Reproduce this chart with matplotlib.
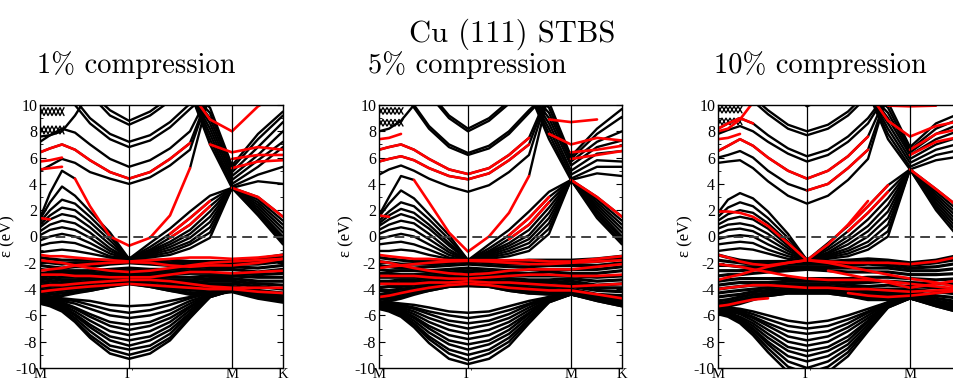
import numpy as np
import matplotlib
matplotlib.use("Agg")
import matplotlib.pyplot as plt
from matplotlib.ticker import MultipleLocator

N = np.nan
T = 11.0  # band leaves the window at the top

# k path M - Gamma - M - K (path length units)
k_nodes = [0, 10, 22, 35, 50, 70, 89, 110, 130, 150, 170, 192, 218, 243]
sym_k = [0, 89, 192, 243]
sym_labels = ["M", "Γ", "M", "K"]
wave_k = [0, 4, 8, 12, 16, 20, 24]

suptitle = "Cu (111) STBS"
panel_titles = ["1% compression", "5% compression", "10% compression"]

# ---------------- 1% compression ----------------
p1_lower = [
    [-4.6, -4.6, -4.7, -4.8, -4.9, -5.2, -5.3, -5.2, -4.9, -4.6, -4.3, -4.0, -4.3, -4.5],
    [-4.7, -4.7, -4.8, -4.9, -5.2, -5.6, -5.8, -5.6, -5.2, -4.7, -4.3, -4.0, -4.3, -4.5],
    [-4.7, -4.8, -4.9, -5.1, -5.5, -6.0, -6.2, -6.0, -5.6, -4.9, -4.4, -4.0, -4.4, -4.6],
    [-4.8, -4.8, -5.0, -5.4, -5.9, -6.5, -6.7, -6.5, -5.9, -5.1, -4.4, -4.0, -4.4, -4.6],
    [-4.8, -4.9, -5.1, -5.5, -6.1, -6.8, -7.1, -6.8, -6.2, -5.3, -4.4, -4.0, -4.4, -4.7],
    [-4.9, -5.0, -5.2, -5.7, -6.4, -7.2, -7.5, -7.2, -6.5, -5.4, -4.5, -4.1, -4.5, -4.7],
    [-4.9, -5.1, -5.3, -5.9, -6.7, -7.6, -7.9, -7.6, -6.8, -5.6, -4.5, -4.1, -4.5, -4.8],
    [-5.0, -5.1, -5.4, -6.0, -6.9, -7.9, -8.3, -7.9, -7.1, -5.8, -4.5, -4.1, -4.5, -4.8],
    [-5.0, -5.2, -5.5, -6.2, -7.2, -8.3, -8.6, -8.3, -7.4, -5.9, -4.6, -4.1, -4.6, -4.8],
    [-5.1, -5.2, -5.6, -6.4, -7.5, -8.6, -9.0, -8.6, -7.7, -6.1, -4.6, -4.1, -4.6, -4.9],
    [-5.1, -5.3, -5.7, -6.5, -7.7, -8.9, -9.3, -8.9, -7.9, -6.2, -4.6, -4.1, -4.6, -4.9],
]
p1_dband = [
    [-1.6, -1.7, -1.8, -1.8, -1.8, -1.8, -1.75, -1.8, -1.8, -1.9, -1.9, -1.9, -1.7, -1.4],
    [-1.9, -2.0, -2.1, -2.0, -2.0, -1.9, -1.8, -1.9, -2.0, -2.0, -2.0, -2.0, -1.9, -1.6],
    [-2.2, -2.3, -2.4, -2.3, -2.3, -2.1, -2.0, -2.1, -2.2, -2.2, -2.1, -2.1, -2.1, -1.9],
    [-2.5, -2.6, -2.6, -2.6, -2.6, -2.5, -2.4, -2.5, -2.5, -2.4, -2.3, -2.3, -2.4, -2.2],
    [-2.8, -2.8, -2.8, -2.8, -2.8, -2.7, -2.6, -2.7, -2.7, -2.6, -2.5, -2.5, -2.7, -2.5],
    [-3.1, -3.0, -2.9, -2.9, -2.9, -2.9, -2.8, -2.9, -2.9, -2.8, -2.8, -2.8, -2.9, -2.8],
    [-3.3, -3.2, -3.1, -3.1, -3.1, -3.0, -3.0, -3.0, -3.1, -3.1, -3.0, -3.0, -3.1, -3.1],
    [-3.5, -3.4, -3.3, -3.3, -3.2, -3.1, -3.1, -3.2, -3.3, -3.3, -3.2, -3.2, -3.4, -3.4],
    [-3.7, -3.6, -3.5, -3.5, -3.4, -3.2, -3.2, -3.3, -3.5, -3.5, -3.4, -3.4, -3.6, -3.7],
    [-3.9, -3.8, -3.7, -3.7, -3.6, -3.4, -3.3, -3.4, -3.6, -3.7, -3.6, -3.6, -3.8, -4.0],
    [-4.1, -4.0, -3.9, -3.9, -3.8, -3.6, -3.4, -3.6, -3.8, -3.9, -3.8, -3.8, -4.1, -4.3],
    [-4.3, -4.2, -4.1, -4.0, -3.9, -3.7, -3.5, -3.7, -3.9, -4.1, -4.0, -3.9, -4.3, -4.6],
    [-4.5, -4.4, -4.3, -4.2, -4.1, -3.8, -3.55, -3.8, -4.1, -4.3, -4.2, -4.1, -4.5, -4.8],
    [-4.7, -4.6, -4.5, -4.3, -4.1, -3.8, -3.6, -3.8, -4.1, -4.4, -4.4, -4.2, -4.7, -5.0],
]
p1_dband_red = [
    [-1.4, -1.5, -1.5, -1.6, -1.7, -1.8, -1.9, -1.8, -1.7, -1.6, -1.6, -1.7, -1.6, -1.4],
    [-2.6, -2.5, -2.4, -2.2, -2.1, -2.0, -1.95, -2.0, -2.2, -2.3, -2.2, -2.2, -2.0, -1.7],
    [-1.8, -1.9, -2.0, -2.2, -2.4, -2.6, -2.7, -2.6, -2.4, -2.2, -2.0, -1.9, -1.8, -1.7],
    [-2.9, -2.9, -2.9, -3.0, -3.0, -3.1, -3.1, -3.1, -2.9, -2.7, -2.7, -2.8, -2.7, -2.6],
    [-3.8, -3.7, -3.7, -3.6, -3.5, -3.4, -3.3, -3.3, -3.4, -3.6, -3.8, -3.9, -3.9, -3.9],
    [-4.2, -4.1, -4.0, -3.9, -3.8, -3.7, -3.6, -3.7, -3.8, -3.9, -4.0, -4.0, -4.2, -4.3],
]
p1_upper = [
    # Gamma-centred bands
    [N, N, N, N, T, 9.6, 8.8, 9.5, 10.6, T, N, N, N, N],
    [N, N, N, N, 10.8, 9.2, 8.5, 9.2, 10.3, T, N, N, N, N],
    [N, N, T, 10.4, 9.0, 7.8, 7.2, 7.7, 8.7, 10.1, T, N, N, N],
    [N, N, T, 10.0, 8.6, 7.4, 6.8, 7.3, 8.3, 9.7, T, N, N, N],
    [7.2, 7.7, 8.2, 7.9, 7.0, 5.9, 5.3, 5.8, 6.7, 8.0, T, N, N, N],
    [6.4, 6.7, 7.0, 6.6, 5.8, 4.9, 4.4, 4.9, 5.9, 7.1, T, N, N, N],
    [5.0, 5.4, 5.9, 5.6, 4.9, 4.4, 4.0, 4.5, 5.4, 6.6, T, N, N, N],
    # bands meeting at Gamma -1.7 and at M 3.7
    [1.3, 2.6, 3.8, 3.1, 1.9, 0.3, -1.7, -0.5, 0.6, 1.9, 3.1, 3.7, 3.0, 1.5],
    [1.1, 2.0, 2.8, 2.5, 1.5, 0.0, -1.7, -0.8, 0.2, 1.4, 2.7, 3.7, 2.8, 1.2],
    [0.9, 1.6, 2.2, 2.0, 1.1, -0.3, -1.7, -1.0, -0.1, 0.9, 2.3, 3.7, 2.6, 0.9],
    [0.7, 1.3, 1.7, 1.5, 0.7, -0.6, -1.7, -1.1, -0.4, 0.5, 1.9, 3.7, 2.4, 0.6],
    [0.4, 0.9, 1.2, 1.0, 0.3, -0.9, -1.7, -1.2, -0.6, 0.2, 1.5, 3.7, 2.2, 0.3],
    [0.1, 0.5, 0.7, 0.5, -0.1, -1.1, -1.7, -1.3, -0.8, -0.1, 1.1, 3.7, 2.0, 0.0],
    [-0.3, 0.0, 0.2, 0.0, -0.5, -1.3, -1.7, -1.4, -1.0, -0.4, 0.7, 3.7, 1.9, -0.2],
    [-0.7, -0.5, -0.4, -0.5, -0.9, -1.5, -1.7, -1.5, -1.2, -0.6, 0.3, 3.7, 1.7, -0.4],
    [-1.2, -1.1, -1.0, -1.1, -1.3, -1.6, -1.7, -1.6, -1.4, -0.9, -0.1, 3.7, 1.6, -0.6],
    # bands coming down into M from the top
    [N, N, N, N, N, N, N, N, N, T, 9.8, 5.4, 7.8, 9.5],
    [N, N, N, N, N, N, N, N, N, T, 9.4, 5.2, 7.4, 9.2],
    [N, N, N, N, N, N, N, N, N, T, 9.0, 4.9, 6.8, 8.7],
    [N, N, N, N, N, N, N, N, N, T, 8.6, 4.6, 6.2, 8.0],
    [N, N, N, N, N, N, N, N, N, T, 8.2, 4.3, 5.8, 7.2],
    [N, N, N, N, N, N, N, N, N, T, 7.8, 4.0, 5.3, 6.8],
    [N, N, N, N, N, N, N, N, N, T, 7.4, 3.8, 4.7, 5.3],
    [N, N, N, N, N, N, N, N, N, T, 7.0, 3.7, 4.2, 4.0],
    # pieces
    [1.4, 3.3, 5.0, 4.4, N, N, N, N, N, N, N, N, N, N],
    [N, N, N, N, N, N, N, N, N, 5.2, T, N, N, N],
    [7.6, 7.7, 8.0, 9.2, T, N, N, N, N, N, N, N, N, N],
]
p1_upper_red = [
    [6.4, 6.7, 7.0, 6.6, 5.8, 4.9, 4.4, 4.9, 5.9, 7.1, N, N, N, N],
    [N, N, N, 4.4, 2.3, 0.0, -0.7, -0.1, 1.6, 5.2, N, N, N, N],
    [N, N, N, N, N, N, N, N, 0.2, 1.4, 2.7, N, N, N],
    [N, N, N, N, N, N, N, N, -0.1, 0.9, 2.3, N, N, N],
    [N, N, N, N, N, N, N, N, N, N, N, 3.7, 3.0, 1.5],
    [N, N, N, N, N, N, N, N, N, T, 8.9, 8.0, 9.9, T],
    [N, N, N, N, N, N, N, N, N, N, 7.0, 6.4, 6.8, 6.6],
    [N, N, N, N, N, N, N, N, N, N, N, 5.9, 6.2, 6.2],
    [N, N, N, N, N, N, N, N, N, N, N, 5.2, 5.7, 5.8],
    [5.7, 5.8, 6.0, N, N, N, N, N, N, N, N, N, N, N],
    [5.1, 5.2, 5.3, N, N, N, N, N, N, N, N, N, N, N],
    [1.4, 1.3, N, N, N, N, N, N, N, N, N, N, N, N],
]
p1_wave = [
    [9.8, 9.2, 9.8, 9.2, 9.8, 9.2, 9.8],
    [9.2, 9.8, 9.2, 9.8, 9.2, 9.8, 9.2],
    [8.4, 7.8, 8.4, 7.8, 8.4, 7.8, 8.4],
    [7.8, 8.4, 7.8, 8.4, 7.8, 8.4, 7.8],
]

# ---------------- 5% compression ----------------
p2_lower = [
    [-5.0, -5.0, -5.1, -5.2, -5.4, -5.7, -5.8, -5.7, -5.3, -4.9, -4.6, -4.3, -4.6, -4.9],
    [-5.1, -5.1, -5.2, -5.4, -5.7, -6.0, -6.2, -6.0, -5.6, -5.1, -4.6, -4.3, -4.6, -4.9],
    [-5.1, -5.1, -5.3, -5.5, -5.9, -6.4, -6.6, -6.4, -5.9, -5.2, -4.7, -4.3, -4.7, -5.0],
    [-5.2, -5.2, -5.4, -5.7, -6.2, -6.7, -7.0, -6.7, -6.2, -5.4, -4.7, -4.3, -4.7, -5.0],
    [-5.2, -5.3, -5.5, -5.9, -6.5, -7.1, -7.4, -7.1, -6.5, -5.6, -4.8, -4.3, -4.7, -5.1],
    [-5.3, -5.4, -5.6, -6.1, -6.8, -7.5, -7.8, -7.5, -6.8, -5.8, -4.8, -4.4, -4.8, -5.1],
    [-5.3, -5.4, -5.7, -6.2, -7.0, -7.9, -8.2, -7.9, -7.1, -5.9, -4.8, -4.4, -4.8, -5.1],
    [-5.4, -5.5, -5.8, -6.4, -7.3, -8.2, -8.6, -8.2, -7.4, -6.1, -4.9, -4.4, -4.8, -5.2],
    [-5.4, -5.6, -5.9, -6.6, -7.6, -8.6, -9.0, -8.6, -7.7, -6.3, -4.9, -4.4, -4.8, -5.2],
    [-5.5, -5.6, -6.0, -6.7, -7.8, -8.9, -9.4, -8.9, -8.0, -6.4, -5.0, -4.4, -4.9, -5.3],
    [-5.5, -5.7, -6.1, -6.9, -8.1, -9.3, -9.7, -9.3, -8.3, -6.6, -5.0, -4.4, -4.9, -5.3],
]
p2_dband = [
    [-1.6, -1.7, -1.8, -1.9, -1.9, -1.9, -1.8, -1.9, -1.9, -1.8, -1.8, -1.8, -1.7, -1.5],
    [-1.9, -2.0, -2.1, -2.1, -2.1, -2.0, -1.9, -2.0, -2.1, -2.0, -2.0, -2.0, -1.9, -1.7],
    [-2.2, -2.3, -2.4, -2.4, -2.3, -2.2, -2.1, -2.2, -2.3, -2.3, -2.2, -2.2, -2.2, -2.0],
    [-2.5, -2.6, -2.6, -2.6, -2.6, -2.5, -2.4, -2.5, -2.6, -2.5, -2.5, -2.5, -2.5, -2.3],
    [-2.8, -2.8, -2.9, -2.9, -2.8, -2.7, -2.6, -2.7, -2.8, -2.8, -2.7, -2.8, -2.8, -2.6],
    [-3.1, -3.1, -3.1, -3.1, -3.0, -2.9, -2.8, -2.9, -3.0, -3.0, -3.0, -3.0, -3.1, -3.0],
    [-3.4, -3.4, -3.3, -3.3, -3.2, -3.1, -3.0, -3.1, -3.2, -3.3, -3.3, -3.2, -3.4, -3.3],
    [-3.6, -3.6, -3.5, -3.5, -3.4, -3.3, -3.2, -3.3, -3.4, -3.5, -3.5, -3.4, -3.7, -3.6],
    [-3.9, -3.8, -3.8, -3.7, -3.6, -3.4, -3.3, -3.4, -3.6, -3.7, -3.7, -3.6, -3.9, -3.9],
    [-4.1, -4.1, -4.0, -3.9, -3.7, -3.5, -3.4, -3.5, -3.7, -3.9, -3.9, -3.8, -4.1, -4.2],
    [-4.4, -4.3, -4.2, -4.1, -3.9, -3.6, -3.5, -3.6, -3.9, -4.0, -4.1, -4.0, -4.4, -4.5],
    [-4.6, -4.5, -4.4, -4.2, -4.0, -3.7, -3.6, -3.7, -4.0, -4.2, -4.2, -4.1, -4.6, -4.8],
    [-4.8, -4.7, -4.6, -4.3, -4.1, -3.8, -3.7, -3.8, -4.1, -4.3, -4.3, -4.2, -4.7, -5.0],
    [-5.0, -4.9, -4.7, -4.4, -4.1, -3.8, -3.75, -3.8, -4.1, -4.3, -4.4, -4.3, -4.8, -5.1],
]
p2_dband_red = [
    [-1.4, -1.5, -1.6, -1.7, -1.7, -1.8, -1.8, -1.8, -1.8, -1.8, -1.9, -1.9, -1.7, -1.5],
    [-2.4, -2.3, -2.2, -2.1, -2.0, -1.9, -1.85, -1.9, -2.0, -2.1, -2.1, -2.0, -1.9, -1.8],
    [-1.9, -2.0, -2.2, -2.4, -2.6, -2.8, -2.9, -2.8, -2.6, -2.5, -2.5, -2.5, -2.3, -2.1],
    [-3.0, -3.0, -3.0, -3.0, -3.1, -3.2, -3.2, -3.1, -3.0, -2.9, -2.9, -3.0, -3.0, -2.9],
    [-3.6, -3.6, -3.6, -3.6, -3.5, -3.5, -3.4, -3.5, -3.5, -3.6, -3.7, -3.8, -3.7, -3.6],
    [-4.6, -4.5, -4.3, -4.1, -3.9, -3.7, -3.6, -3.7, -3.9, -4.0, -4.1, -4.1, -4.4, -4.7],
]
p2_upper = [
    [N, N, N, N, T, 9.2, 8.2, 9.0, 10.3, T, N, N, N, N],
    [N, N, N, N, 10.8, 9.0, 8.0, 8.8, 10.1, T, N, N, N, N],
    [N, N, T, 10.0, 8.4, 7.0, 6.35, 6.9, 8.0, 9.6, T, N, N, N],
    [N, N, T, 9.8, 8.2, 6.8, 6.2, 6.7, 7.8, 9.4, T, N, N, N],
    [6.6, 6.8, 7.0, 6.6, 5.9, 5.1, 4.75, 5.2, 6.2, 7.5, T, N, N, N],
    [5.7, 5.9, 6.1, 5.8, 5.2, 4.6, 4.35, 4.8, 5.8, 7.0, T, N, N, N],
    [4.7, 5.1, 5.4, 5.0, 4.4, 3.8, 3.4, 3.9, 4.9, 6.2, T, N, N, N],
    [1.5, 2.5, 3.5, 2.9, 1.7, 0.1, -1.8, -0.6, 0.5, 1.9, 3.4, 4.3, 3.0, 1.5],
    [1.2, 1.9, 2.6, 2.3, 1.3, -0.2, -1.8, -0.9, 0.1, 1.4, 3.0, 4.3, 2.8, 1.2],
    [1.0, 1.6, 2.1, 1.8, 0.9, -0.5, -1.8, -1.1, -0.2, 0.9, 2.6, 4.3, 2.6, 0.9],
    [0.8, 1.3, 1.7, 1.4, 0.6, -0.7, -1.8, -1.2, -0.5, 0.5, 2.2, 4.3, 2.4, 0.6],
    [0.5, 0.9, 1.2, 1.0, 0.2, -1.0, -1.8, -1.3, -0.7, 0.1, 1.8, 4.3, 2.2, 0.3],
    [0.2, 0.5, 0.7, 0.5, -0.2, -1.2, -1.8, -1.4, -0.9, -0.2, 1.4, 4.3, 2.0, 0.0],
    [-0.2, 0.0, 0.2, 0.0, -0.6, -1.4, -1.8, -1.5, -1.1, -0.5, 1.0, 4.3, 1.8, -0.2],
    [-0.6, -0.5, -0.4, -0.6, -1.0, -1.6, -1.8, -1.6, -1.3, -0.8, 0.6, 4.3, 1.6, -0.4],
    [-1.1, -1.1, -1.0, -1.1, -1.4, -1.7, -1.8, -1.7, -1.5, -1.1, 0.2, 4.3, 1.4, -0.6],
    [N, N, N, N, N, N, N, N, N, T, 10.2, 6.1, 8.2, 9.7],
    [N, N, N, N, N, N, N, N, N, T, 9.8, 5.9, 7.8, 9.1],
    [N, N, N, N, N, N, N, N, N, T, 9.4, 5.7, 7.2, 8.0],
    [N, N, N, N, N, N, N, N, N, T, 9.0, 5.4, 6.8, 7.3],
    [N, N, N, N, N, N, N, N, N, T, 8.6, 5.0, 6.3, 6.5],
    [N, N, N, N, N, N, N, N, N, T, 8.2, 4.7, 5.8, 5.7],
    [N, N, N, N, N, N, N, N, N, T, 7.8, 4.4, 5.3, 5.3],
    [N, N, N, N, N, N, N, N, N, T, 7.4, 4.3, 4.8, 4.6],
    [1.6, 3.0, 4.6, 4.3, N, N, N, N, N, N, N, N, N, N],
    [N, N, N, N, N, N, N, N, N, 4.6, T, N, N, N],
    [8.0, 8.2, 8.8, 10.0, T, N, N, N, N, N, N, N, N, N],
]
p2_upper_red = [
    [6.6, 6.8, 7.0, 6.6, 5.9, 5.1, 4.75, 5.2, 6.2, 7.5, N, N, N, N],
    [5.7, 5.9, 6.1, 5.8, 5.2, 4.6, 4.35, 4.8, 5.8, 7.0, N, N, N, N],
    [N, N, N, 4.3, 2.6, 0.3, -1.15, 0.0, 1.8, 4.6, N, N, N, N],
    [N, N, N, N, N, N, N, N, 0.1, 1.4, 3.0, N, N, N],
    [N, N, N, N, N, N, N, N, -0.2, 0.9, 2.6, N, N, N],
    [N, N, N, N, N, N, N, N, N, N, N, 4.3, 3.0, 1.5],
    [N, N, N, N, N, N, N, N, N, N, 8.9, 8.7, 8.9, N],
    [N, N, N, N, N, N, N, N, N, N, 7.8, 7.0, 7.5, 7.3],
    [N, N, N, N, N, N, N, N, N, N, N, 6.4, 6.6, 6.9],
    [N, N, N, N, N, N, N, N, N, N, N, 5.9, 6.2, 6.5],
    [7.4, 7.5, 7.8, N, N, N, N, N, N, N, N, N, N, N],
    [1.6, 1.5, N, N, N, N, N, N, N, N, N, N, N, N],
]
p2_wave = [
    [9.8, 9.3, 9.8, 9.3, 9.8, 9.3, 9.8],
    [9.3, 9.8, 9.3, 9.8, 9.3, 9.8, 9.3],
    [8.9, 8.4, 8.9, 8.4, 8.9, 8.4, 8.9],
    [8.4, 8.9, 8.4, 8.9, 8.4, 8.9, 8.4],
]

# ---------------- 10% compression ----------------
p3_lower = [
    [-5.4, -5.4, -5.5, -5.7, -6.0, -6.4, -6.6, -6.4, -6.0, -5.5, -5.0, -4.6, -5.0, -5.4],
    [-5.5, -5.5, -5.6, -5.9, -6.3, -6.8, -7.0, -6.8, -6.3, -5.7, -5.0, -4.6, -5.0, -5.4],
    [-5.5, -5.5, -5.7, -6.1, -6.6, -7.2, -7.4, -7.2, -6.6, -5.8, -5.1, -4.6, -5.1, -5.5],
    [-5.6, -5.6, -5.8, -6.2, -6.8, -7.6, -7.9, -7.6, -6.9, -6.0, -5.1, -4.6, -5.1, -5.5],
    [-5.6, -5.7, -5.9, -6.4, -7.1, -8.0, -8.3, -8.0, -7.2, -6.2, -5.2, -4.6, -5.1, -5.6],
    [-5.7, -5.8, -6.1, -6.6, -7.4, -8.4, -8.7, -8.4, -7.6, -6.4, -5.2, -4.7, -5.2, -5.6],
    [-5.7, -5.8, -6.2, -6.8, -7.7, -8.7, -9.1, -8.7, -7.9, -6.5, -5.2, -4.7, -5.2, -5.6],
    [-5.8, -5.9, -6.3, -7.0, -8.0, -9.1, -9.5, -9.1, -8.2, -6.7, -5.3, -4.7, -5.2, -5.7],
    [-5.8, -6.0, -6.4, -7.1, -8.2, -9.5, -10.0, -9.5, -8.5, -6.9, -5.3, -4.7, -5.2, -5.7],
    [-5.9, -6.0, -6.5, -7.3, -8.5, -9.9, -10.4, -9.9, -8.8, -7.0, -5.4, -4.7, -5.3, -5.8],
    [-5.9, -6.1, -6.6, -7.5, -8.8, -10.3, -10.8, -10.3, -9.1, -7.2, -5.4, -4.7, -5.3, -5.8],
]
p3_dband = [
    [-1.4, -1.6, -1.8, -1.9, -1.9, -1.9, -1.9, -1.9, -1.8, -1.7, -1.8, -2.0, -1.8, -1.4],
    [-1.8, -1.9, -2.0, -2.1, -2.1, -2.1, -2.1, -2.1, -2.0, -1.9, -2.0, -2.2, -2.0, -1.7],
    [-2.2, -2.2, -2.3, -2.3, -2.3, -2.3, -2.3, -2.3, -2.2, -2.1, -2.2, -2.4, -2.3, -2.0],
    [-2.6, -2.6, -2.6, -2.5, -2.5, -2.4, -2.4, -2.4, -2.4, -2.4, -2.4, -2.6, -2.6, -2.4],
    [-3.0, -2.9, -2.9, -2.8, -2.7, -2.6, -2.5, -2.6, -2.7, -2.7, -2.7, -2.9, -2.9, -2.8],
    [-3.4, -3.3, -3.2, -3.2, -3.2, -3.2, -3.2, -3.2, -3.2, -3.1, -3.1, -3.2, -3.3, -3.2],
    [-3.7, -3.6, -3.5, -3.5, -3.5, -3.4, -3.4, -3.4, -3.5, -3.5, -3.4, -3.5, -3.6, -3.6],
    [-4.0, -3.9, -3.8, -3.7, -3.7, -3.6, -3.6, -3.6, -3.7, -3.8, -3.7, -3.8, -3.9, -4.0],
    [-4.3, -4.2, -4.1, -4.0, -3.9, -3.8, -3.8, -3.8, -3.9, -4.0, -4.0, -4.0, -4.2, -4.4],
    [-4.6, -4.5, -4.4, -4.2, -4.1, -4.0, -3.9, -4.0, -4.1, -4.2, -4.2, -4.2, -4.5, -4.7],
    [-4.9, -4.8, -4.6, -4.4, -4.3, -4.1, -4.1, -4.1, -4.3, -4.4, -4.4, -4.3, -4.7, -5.0],
    [-5.1, -5.0, -4.8, -4.6, -4.4, -4.2, -4.2, -4.2, -4.4, -4.6, -4.6, -4.4, -4.9, -5.2],
    [-5.3, -5.2, -5.0, -4.7, -4.5, -4.3, -4.3, -4.3, -4.5, -4.7, -4.7, -4.5, -5.0, -5.4],
    [-5.5, -5.3, -5.1, -4.8, -4.5, -4.3, -4.3, -4.3, -4.5, -4.8, -4.8, -4.6, -5.1, -5.6],
]
p3_dband_red = [
    [-1.4, -1.6, -1.9, -2.1, -2.2, -2.0, -1.8, -2.0, -2.3, -2.6, -2.9, -3.2, -3.5, -3.9],
    [-3.3, -3.1, -2.9, -2.6, -2.3, -2.0, -1.8, -1.9, -2.0, -2.0, -2.0, -2.1, -1.9, -1.5],
    [-2.1, -2.2, -2.3, -2.5, -2.7, -3.0, -3.2, -3.3, -3.3, -3.3, -3.4, -3.6, -3.8, -4.0],
    [-4.0, -3.9, -3.8, -3.7, -3.7, -3.8, -3.9, -3.9, -4.0, -4.0, -4.1, -4.2, -4.1, -4.0],
    [-5.3, -5.2, -5.0, -4.8, -4.7, N, N, N, N, N, N, N, N, N],
    [N, N, N, N, N, N, N, N, -4.3, -4.5, -4.6, -4.5, -4.3, -4.1],
    [N, N, N, N, N, N, N, -2.6, -2.9, -3.2, -3.5, -3.9, -3.6, -3.3],
]
p3_upper = [
    [N, N, N, N, N, T, 9.9, 10.6, T, N, N, N, N, N],
    [N, N, T, 10.6, 9.6, 8.5, 8.0, 8.5, 9.5, T, N, N, N, N],
    [N, N, 10.8, 10.3, 9.3, 8.2, 7.7, 8.2, 9.2, 10.7, T, N, N, N],
    [8.2, 8.6, 9.0, 8.6, 7.7, 6.7, 6.1, 6.6, 7.6, 9.0, T, N, N, N],
    [7.8, 8.1, 8.4, 8.0, 7.2, 6.3, 5.7, 6.2, 7.2, 8.6, T, N, N, N],
    [6.5, 6.9, 7.4, 6.9, 6.0, 5.0, 4.4, 5.0, 6.1, 7.6, T, N, N, N],
    [6.0, 6.2, 6.5, 6.0, 5.0, 4.0, 3.5, 4.0, 5.2, 6.6, T, N, N, N],
    [5.6, 5.7, 5.8, 5.2, 4.2, 3.1, 2.5, 3.1, 4.3, 5.9, T, N, N, N],
    [1.8, 2.8, 3.3, 2.9, 1.9, 0.2, -1.8, -0.5, 0.8, 2.3, 3.9, 5.1, 3.6, 2.1],
    [1.5, 2.2, 2.6, 2.3, 1.4, -0.1, -1.8, -0.8, 0.4, 1.8, 3.4, 5.1, 3.4, 1.8],
    [1.2, 1.7, 2.0, 1.8, 1.0, -0.4, -1.8, -1.0, 0.0, 1.3, 2.9, 5.1, 3.2, 1.5],
    [0.9, 1.3, 1.5, 1.3, 0.6, -0.7, -1.8, -1.2, -0.3, 0.8, 2.4, 5.1, 3.0, 1.2],
    [0.6, 0.9, 1.0, 0.8, 0.2, -0.9, -1.8, -1.3, -0.6, 0.4, 1.9, 5.1, 2.8, 0.9],
    [0.2, 0.5, 0.6, 0.4, -0.2, -1.1, -1.8, -1.4, -0.9, 0.0, 1.4, 5.1, 2.6, 0.6],
    [-0.2, 0.0, 0.1, 0.0, -0.6, -1.3, -1.8, -1.5, -1.1, -0.4, 0.9, 5.1, 2.4, 0.3],
    [-0.6, -0.5, -0.4, -0.5, -1.0, -1.5, -1.8, -1.6, -1.3, -0.7, 0.4, 5.1, 2.2, 0.0],
    [-1.1, -1.0, -0.9, -1.0, -1.3, -1.7, -1.8, -1.7, -1.5, -1.0, 0.0, 5.1, 2.0, -0.3],
    [N, N, N, N, N, N, N, N, N, T, 10.2, 6.8, 8.6, 9.4],
    [N, N, N, N, N, N, N, N, N, T, 9.8, 6.6, 8.2, 9.0],
    [N, N, N, N, N, N, N, N, N, T, 9.4, 6.4, 7.8, 8.6],
    [N, N, N, N, N, N, N, N, N, T, 9.0, 6.2, 7.4, 8.1],
    [N, N, N, N, N, N, N, N, N, T, 8.6, 5.9, 7.0, 7.6],
    [N, N, N, N, N, N, N, N, N, T, 8.2, 5.6, 6.6, 7.1],
    [N, N, N, N, N, N, N, N, N, T, 7.8, 5.3, 6.2, 6.6],
    [N, N, N, N, N, N, N, N, N, T, 7.4, 5.1, 5.8, 6.1],
]
p3_upper_red = [
    [6.5, 6.9, 7.4, 6.9, 6.0, 5.0, 4.4, 5.0, 6.1, 7.6, N, N, N, N],
    [N, N, N, N, N, N, 3.5, 4.0, 5.2, 6.6, N, N, N, N],
    [8.2, 8.6, 9.0, 8.6, N, N, N, N, N, N, N, N, N, N],
    [1.9, 1.9, 1.8, 1.5, 0.8, -0.5, -1.8, -0.6, 0.9, 2.7, N, N, N, N],
    [N, N, N, N, N, N, N, N, 0.8, 2.3, 3.9, N, N, N],
    [N, N, N, N, N, N, N, N, 0.4, 1.8, 3.4, N, N, N],
    [N, N, N, N, N, N, N, N, N, N, N, 5.1, 3.6, 2.1],
    [N, N, N, N, N, N, N, N, N, T, 8.8, 7.6, 8.4, 8.8],
    [N, N, N, N, N, N, N, N, N, N, N, 6.6, 7.8, 8.2],
    [N, N, N, N, N, N, N, N, N, N, N, 6.2, 7.2, 7.6],
    [N, N, N, N, N, N, N, N, N, N, 9.95, 9.9, 9.95, N],
    [8.0, 8.2, 8.9, 10.2, T, N, N, N, N, N, N, N, N, N],
    [7.4, 7.5, 7.8, N, N, N, N, N, N, N, N, N, N, N],
]
p3_wave = [
    [9.9, 9.4, 9.9, 9.4, 9.9, 9.4, 9.9],
    [9.4, 9.9, 9.4, 9.9, 9.4, 9.9, 9.4],
    [9.0, 8.5, 9.0, 8.5, 9.0, 8.5, 9.0],
    [8.5, 9.0, 8.5, 9.0, 8.5, 9.0, 8.5],
]

panels = [
    (p1_lower, p1_dband, p1_upper, p1_wave, p1_dband_red, p1_upper_red),
    (p2_lower, p2_dband, p2_upper, p2_wave, p2_dband_red, p2_upper_red),
    (p3_lower, p3_dband, p3_upper, p3_wave, p3_dband_red, p3_upper_red),
]

plt.rcParams["axes.unicode_minus"] = False
plt.rcParams["font.family"] = ["Liberation Serif", "DejaVu Serif"]
fig = plt.figure(figsize=(9.54, 3.83), dpi=100)

W, H = 954.0, 383.0
ax_left_px = [40, 379, 718]
ax_w_px = 243
ax_top_px, ax_bot_px = 105, 368
title_x_px = [136, 467, 820]

for i, (lower, dband, upper, wave, dred, ured) in enumerate(panels):
    ax = fig.add_axes([ax_left_px[i] / W, 1 - ax_bot_px / H,
                       ax_w_px / W, (ax_bot_px - ax_top_px) / H])
    style = dict(solid_joinstyle="round", solid_capstyle="round")
    for row in lower:
        ax.plot(k_nodes, row, color="black", lw=1.8, **style)
    for row in dband:
        ax.plot(k_nodes, row, color="black", lw=2.3, **style)
    for row in upper:
        ax.plot(k_nodes, row, color="black", lw=1.7, **style)
    for row in wave:
        ax.plot(wave_k, row, color="black", lw=1.0, **style)
    for row in dred + ured:
        ax.plot(k_nodes, row, color="red", lw=1.9, **style)

    for k in sym_k[1:3]:
        ax.axvline(k, color="black", lw=0.9)
    ax.axhline(0, color="#404040", lw=1.4, ls=(0, (5, 3)))

    ax.set_xlim(0, 243)
    ax.set_ylim(-10, 10)
    # the K label of the last panel falls outside the picture
    n_lab = 4 if i < 2 else 3
    ax.set_xticks(sym_k[:n_lab])
    ax.set_xticklabels(sym_labels[:n_lab])
    ax.tick_params(axis="x", length=0, pad=0, labelsize=10.5)
    ax.yaxis.set_major_locator(MultipleLocator(2))
    ax.yaxis.set_minor_locator(MultipleLocator(1))
    ax.tick_params(axis="y", which="both", direction="in", left=True, right=True)
    ax.tick_params(axis="y", which="major", length=4.5, pad=2, labelsize=11.5)
    ax.tick_params(axis="y", which="minor", length=2.5)
    ax.set_ylabel("ε (eV)", fontsize=12, labelpad=0)
    for sp in ax.spines.values():
        sp.set_linewidth(1.0)

    fig.text(title_x_px[i] / W, 1 - 73 / H, panel_titles[i], ha="center",
             va="baseline", fontfamily="cmr10", fontsize=20.5)

fig.text(512 / W, 1 - 42 / H, suptitle, ha="center", va="baseline",
         fontfamily="cmr10", fontsize=22)

fig.savefig("out.png", dpi=100)
